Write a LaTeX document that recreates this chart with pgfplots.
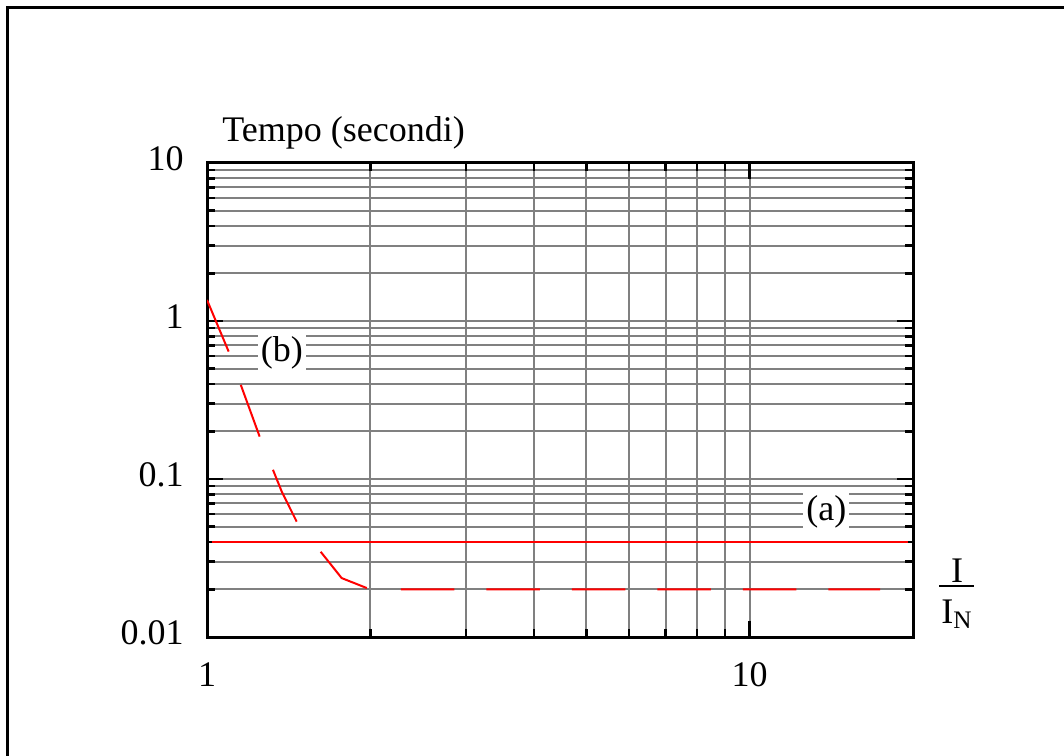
\documentclass[border=0pt]{standalone}
\usepackage{fontspec}
\setmainfont{Liberation Serif}
\usepackage{pgfplots}
\pgfplotsset{compat=1.18}
\begin{document}
\fontsize{18}{21}\selectfont
\begin{tikzpicture}
\path[use as bounding box] (0,0) rectangle (532pt,377.5pt);
\draw[line width=1.5pt] (3.5pt,-5pt) -- (3.5pt,373.5pt) -- (540pt,373.5pt);
\begin{axis}[
  at={(103.5pt,59pt)}, anchor=south west,
  scale only axis, width=353pt, height=237pt,
  xmode=log, ymode=log,
  xmin=1, xmax=20, ymin=0.01, ymax=10,
  xtick={1,10}, xticklabels={1,10},
  minor xtick={2,3,4,5,6,7,8,9},
  ytick={0.01,0.1,1,10}, yticklabels={0.01,0.1,1,10},
  minor ytick={0.02,0.03,0.04,0.05,0.06,0.07,0.08,0.09,0.2,0.3,0.4,0.5,0.6,0.7,0.8,0.9,2,3,4,5,6,7,8,9},
  grid=both,
  grid style={line width=1pt, color=gray},
  major grid style={line width=1pt, color=gray},
  tick style={black, line width=1.2pt},
  major tick length=8pt, minor tick length=4pt,
  tick align=inside,
  axis line style={line width=1.5pt},
  tick label style={font=\fontsize{18}{21}\selectfont},
  xticklabel style={yshift=-6.5pt},
  yticklabel style={xshift=-5.5pt, yshift=2pt},
]
\addplot[red, line width=1pt] coordinates {(1.02,0.04) (19.6,0.04)};
\addplot[red, line width=1pt,
  dash pattern=on 28pt off 17.75pt on 27.5pt off 17.9pt on 28.5pt off 19.3pt on 30.35pt off 17.2pt
  on 26.75pt off 16pt on 26.75pt off 16pt on 26.75pt off 16pt on 26.75pt off 16pt on 26.75pt off 16pt on 26.75pt off 16pt]
  coordinates {
  (1,1.36) (1.097,0.637) (1.251,0.1845) (1.374,0.0828) (1.464,0.0535)
  (1.771,0.0236) (2,0.02) (17.4,0.02)};
\node[fill=white, inner xsep=1.5pt, inner ysep=1.5pt] at (axis cs:13.85,0.0618) {(a)};
\node[fill=white, inner xsep=1.5pt, inner ysep=1.5pt] at (axis cs:1.374,0.627) {(b)};
\end{axis}
\node[anchor=base west, inner sep=0] at (111pt,306.5pt) {Tempo (secondi)};
\node[anchor=base, inner sep=0] at (478.5pt,86.5pt) {I};
\draw[line width=1pt] (469.5pt,84.5pt) -- (487pt,84.5pt);
\node[anchor=base, inner sep=0] at (478.5pt,66pt) {I\textsubscript{N}};
\end{tikzpicture}
\end{document}
